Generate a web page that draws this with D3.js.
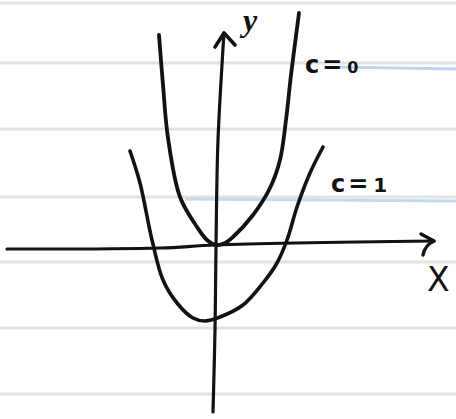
<!DOCTYPE html>
<html>
<head>
<meta charset="utf-8">
<script src="https://cdn.jsdelivr.net/npm/d3@7"></script>
<style>
  html, body { margin: 0; padding: 0; background: #ffffff; }
  svg { display: block; }
</style>
</head>
<body>
<svg id="chart" width="456" height="419"></svg>
<script>
// Sketch of y = x^2 - c for two values of c, on lined paper.
// Points are hand-sketched (x, y) pairs in plot units.

const curveC0 = [
  [-1.425, 5.25], [-1.325, 4.0], [-1.2, 2.675], [-0.9, 1.2], [-0.475, 0.45],
  [-0.225, 0.125], [0, 0], [0.225, 0.05], [0.425, 0.2], [0.925, 0.75],
  [1.35, 1.425], [1.6, 2.125], [1.75, 3.125], [1.875, 4.25], [2.075, 5.8]
];

const curveC1 = [
  [-2.15, 2.35], [-1.9, 1.55], [-1.6, 0.125], [-1.325, -0.875], [-0.975, -1.45],
  [-0.575, -1.825], [-0.275, -1.9], [0.1, -1.8], [0.675, -1.5], [1.175, -0.95],
  [1.525, -0.45], [1.775, 0.125], [2.025, 0.95], [2.35, 1.8], [2.675, 2.45]
];

const xAxisLine = [[-5.225, -0.1], [-1.4, -0.075], [0, 0], [5.45, 0.1]];
const yAxisLine = [[-0.075, -4.175], [-0.025, -2.125], [0, 0], [0.05, 2.625], [0.2, 5.3]];

const curveLabels = ["c=", "c="];
const curveLabelDigits = ["0", "1"];
const axisLabels = ["X", "y"];

const width = 456, height = 419;
const svg = d3.select("#chart");

const x = d3.scaleLinear().domain([-5.4, 6.0]).range([0, width]);
const y = d3.scaleLinear().domain([-4.35, 6.125]).range([height, 0]);

// ruled notebook paper
const rules = [3, 63, 129, 197, 262, 328, 394];
svg.append("g").selectAll("line").data(rules).join("line")
  .attr("x1", 0).attr("x2", width)
  .attr("y1", d => d).attr("y2", d => d)
  .attr("stroke", "#e2e2e2").attr("stroke-width", 3);
// faint blue tint on part of two rules
svg.append("line").attr("x1", 340).attr("x2", width).attr("y1", 67).attr("y2", 69)
  .attr("stroke", "#bcd6ee").attr("stroke-width", 3);
svg.append("line").attr("x1", 185).attr("x2", width).attr("y1", 199).attr("y2", 201)
  .attr("stroke", "#c2d9ef").attr("stroke-width", 3);

const ink = "#121212";
const line = d3.line().x(d => x(d[0])).y(d => y(d[1])).curve(d3.curveCatmullRom.alpha(0.5));

const g = svg.append("g")
  .attr("fill", "none").attr("stroke", ink)
  .attr("stroke-linecap", "round").attr("stroke-linejoin", "round");

// axes
g.append("path").attr("d", line(xAxisLine)).attr("stroke-width", 3.2);
g.append("path").attr("d", line(yAxisLine)).attr("stroke-width", 3.2);

// arrowheads
const xTip = xAxisLine[xAxisLine.length - 1];
g.append("path").attr("stroke-width", 3.4)
  .attr("d", `M${x(xTip[0]) - 13},${y(xTip[1]) - 7} L${x(xTip[0])},${y(xTip[1])} Q${x(xTip[0]) - 9},${y(xTip[1]) + 4} ${x(xTip[0]) - 11},${y(xTip[1]) + 14}`);
const yTip = yAxisLine[yAxisLine.length - 1];
g.append("path").attr("stroke-width", 3.6)
  .attr("d", `M${x(yTip[0]) - 9},${y(yTip[1]) + 14} L${x(yTip[0])},${y(yTip[1])} L${x(yTip[0]) + 11},${y(yTip[1]) + 12}`);

// parabolas
g.append("path").attr("d", line(curveC0)).attr("stroke-width", 3.8);
g.append("path").attr("d", line(curveC1)).attr("stroke-width", 3.6);

// axis labels
svg.append("text").attr("x", 427).attr("y", 291)
  .attr("font-family", "DejaVu Sans").attr("font-size", 33).attr("fill", ink)
  .text(axisLabels[0]);
svg.append("text").attr("x", 243).attr("y", 31)
  .attr("font-family", "Liberation Serif").attr("font-style", "italic")
  .attr("font-weight", "bold").attr("font-size", 32).attr("fill", ink)
  .text(axisLabels[1]);

// curve labels
const labelPos = [[305, 73], [331, 192]];
labelPos.forEach((p, i) => {
  const t = svg.append("text").attr("x", p[0]).attr("y", p[1])
    .attr("font-family", "DejaVu Sans").attr("font-weight", "bold")
    .attr("font-size", 24).attr("letter-spacing", 3).attr("fill", ink);
  t.append("tspan").text(curveLabels[i]);
  t.append("tspan").attr("font-size", i === 0 ? 16 : 20).attr("dx", 2).text(curveLabelDigits[i]);
});
</script>
</body>
</html>
